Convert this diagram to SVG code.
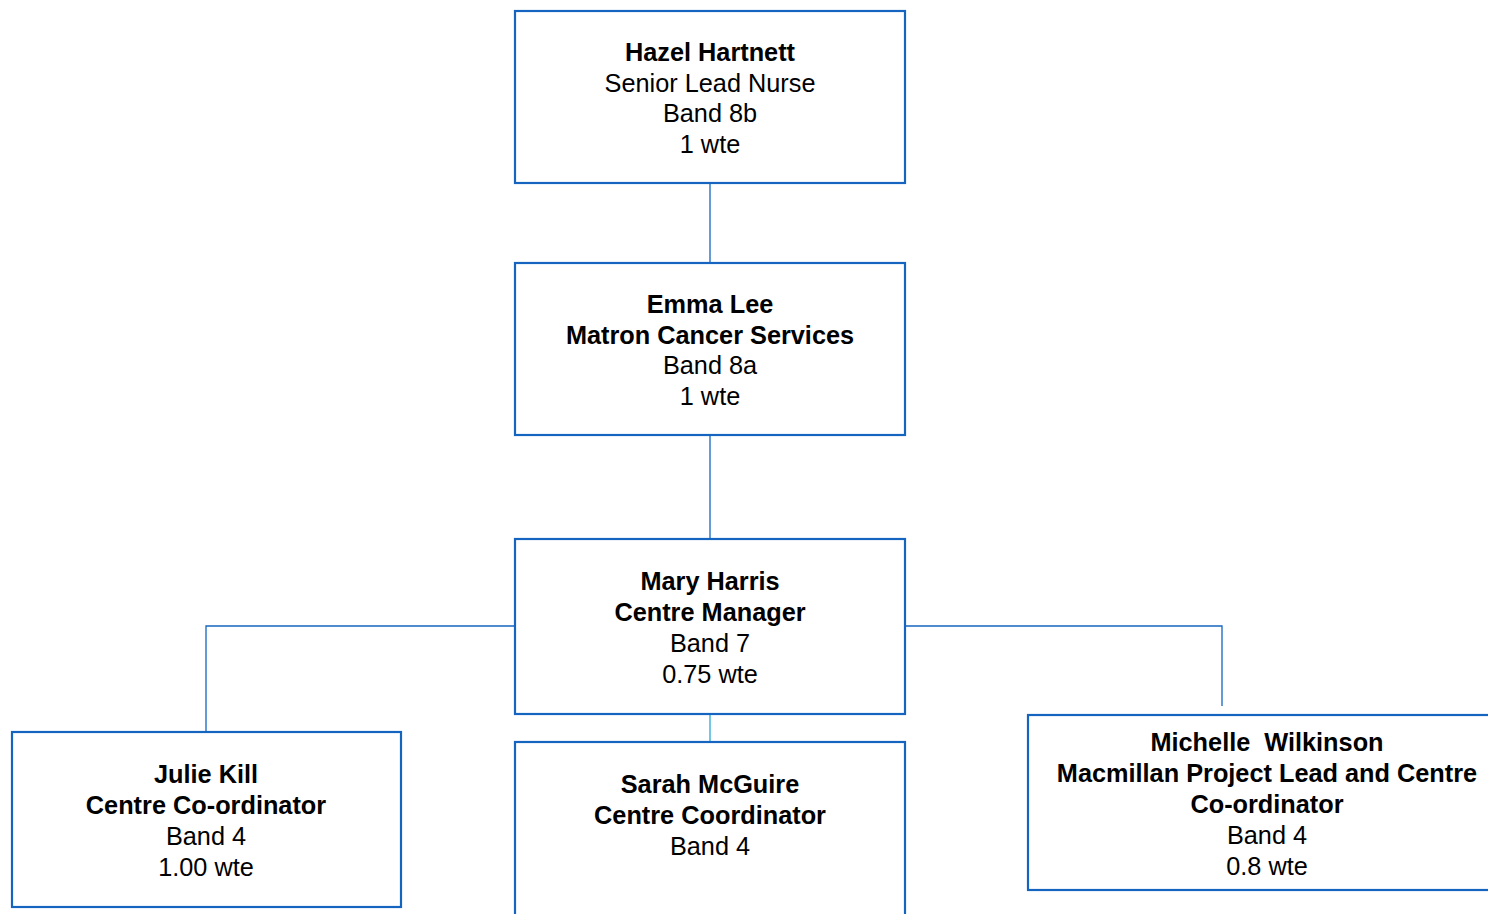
<svg xmlns="http://www.w3.org/2000/svg" width="1488" height="914" viewBox="0 0 1488 914">
<style>
.box{fill:#fff;stroke:#1565c0;stroke-width:2.2}
.t{font-family:"Liberation Sans",Arial,sans-serif;font-size:25.3px;fill:#000;text-anchor:middle}
.b{font-weight:bold}
.c{fill:none;stroke:#1565c0;stroke-width:1.3}
</style>
<rect width="1488" height="914" fill="#fff"/>
<g id="connectors">
<line class="c" x1="710" y1="183" x2="710" y2="263"/>
<line class="c" x1="710" y1="435" x2="710" y2="539"/>
<polyline class="c" points="515,626 206,626 206,732"/>
<polyline class="c" points="905,626 1222,626 1222,706"/>
<line class="c" x1="710" y1="714" x2="710" y2="742" style="stroke:#29a9d6"/>
</g>
<g id="hazel">
<rect class="box" x="515" y="11" width="390" height="172"/>
<text class="t b" x="710" y="61">Hazel Hartnett</text>
<text class="t" x="710" y="92">Senior Lead Nurse</text>
<text class="t" x="710" y="122">Band 8b</text>
<text class="t" x="710" y="153">1 wte</text>
</g>
<g id="emma">
<rect class="box" x="515" y="263" width="390" height="172"/>
<text class="t b" x="710" y="313">Emma Lee</text>
<text class="t b" x="710" y="344">Matron Cancer Services</text>
<text class="t" x="710" y="374">Band 8a</text>
<text class="t" x="710" y="405">1 wte</text>
</g>
<g id="mary">
<rect class="box" x="515" y="539" width="390" height="175"/>
<text class="t b" x="710" y="590">Mary Harris</text>
<text class="t b" x="710" y="621">Centre Manager</text>
<text class="t" x="710" y="652">Band 7</text>
<text class="t" x="710" y="683">0.75 wte</text>
</g>
<g id="julie">
<rect class="box" x="12" y="732" width="389" height="175"/>
<text class="t b" x="206" y="783">Julie Kill</text>
<text class="t b" x="206" y="814">Centre Co-ordinator</text>
<text class="t" x="206" y="845">Band 4</text>
<text class="t" x="206" y="876">1.00 wte</text>
</g>
<g id="sarah">
<rect class="box" x="515" y="742" width="390" height="190"/>
<text class="t b" x="710" y="793">Sarah McGuire</text>
<text class="t b" x="710" y="824">Centre Coordinator</text>
<text class="t" x="710" y="855">Band 4</text>
</g>
<g id="michelle">
<rect class="box" x="1028" y="715" width="480" height="175"/>
<text class="t b" x="1267" y="751" xml:space="preserve">Michelle  Wilkinson</text>
<text class="t b" x="1267" y="782">Macmillan Project Lead and Centre</text>
<text class="t b" x="1267" y="813">Co-ordinator</text>
<text class="t" x="1267" y="844">Band 4</text>
<text class="t" x="1267" y="875">0.8 wte</text>
</g>
</svg>
